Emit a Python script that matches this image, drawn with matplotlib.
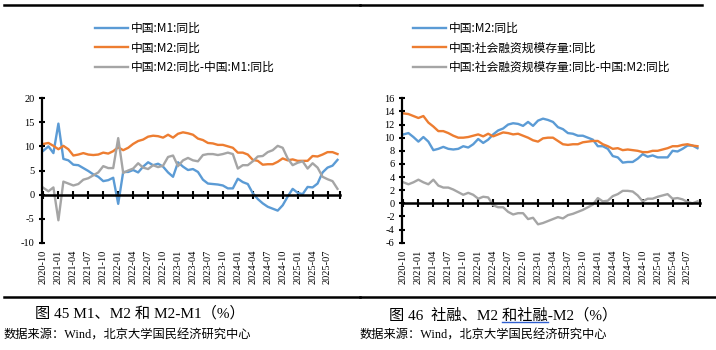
import matplotlib
matplotlib.use("Agg")
import matplotlib.pyplot as plt
import numpy as np
import pandas as pd

plt.rcParams["axes.unicode_minus"] = False

months = [p.strftime("%Y-%m") for p in pd.period_range("2020-10", "2025-09", freq="M")]

m1 = [9.1, 10.0, 8.6,
      14.7, 7.4, 7.1, 6.2, 6.1, 5.5, 4.9, 4.2, 3.7, 2.8, 3.0, 3.5,
      -1.9, 4.7, 4.7, 5.1, 4.6, 5.8, 6.7, 6.1, 6.4, 5.8, 4.6, 3.7,
      6.7, 5.8, 5.1, 5.3, 4.7, 3.1, 2.3, 2.2, 2.1, 1.9, 1.3, 1.3,
      3.3, 2.6, 2.2, 0.3, -0.9, -1.8, -2.5, -2.9, -3.3, -2.2, -0.4, 1.2,
      0.4, 0.1, 1.6, 1.5, 2.3, 4.6, 5.6, 6.0, 7.2]
m2 = [10.5, 10.7, 10.1,
      9.4, 10.1, 9.4, 8.1, 8.3, 8.6, 8.3, 8.2, 8.3, 8.7, 8.5, 9.0,
      9.8, 9.2, 9.7, 10.5, 11.1, 11.4, 12.0, 12.2, 12.1, 11.8, 12.4, 11.8,
      12.6, 12.9, 12.7, 12.4, 11.6, 11.3, 10.7, 10.6, 10.3, 10.3, 10.0, 9.7,
      8.7, 8.7, 8.3, 7.2, 7.0, 6.2, 6.3, 6.3, 6.8, 7.5, 7.1, 7.3,
      7.0, 7.0, 7.0, 8.0, 7.9, 8.3, 8.8, 8.8, 8.4]
m2_m1 = [1.4, 0.7, 1.5,
         -5.3, 2.7, 2.3, 1.9, 2.2, 3.1, 3.4, 4.0, 4.6, 5.9, 5.5, 5.5,
         11.7, 4.5, 5.0, 5.4, 6.5, 5.6, 5.3, 6.1, 5.7, 6.0, 7.8, 8.1,
         5.9, 7.1, 7.6, 7.1, 6.9, 8.2, 8.4, 8.4, 8.2, 8.4, 8.7, 8.4,
         5.4, 6.1, 6.1, 6.9, 7.9, 8.0, 8.8, 9.2, 10.1, 9.7, 7.5, 6.1,
         6.6, 6.9, 5.4, 6.5, 5.6, 3.7, 3.2, 2.8, 1.2]
tsf = [13.7, 13.6, 13.3,
       13.0, 13.3, 12.3, 11.7, 11.0, 11.0, 10.7, 10.3, 10.0, 10.0, 10.1, 10.3,
       10.5, 10.2, 10.6, 10.2, 10.5, 10.8, 10.7, 10.5, 10.6, 10.3, 10.0, 9.6,
       9.4, 9.9, 10.0, 10.0, 9.5, 9.0, 8.9, 9.0, 9.0, 9.3, 9.4, 9.5,
       9.5, 9.0, 8.7, 8.3, 8.4, 8.1, 8.2, 8.1, 8.0, 7.8, 7.8, 8.0,
       8.0, 8.2, 8.4, 8.7, 8.7, 8.9, 9.0, 8.8, 8.7]
tsf_m2 = [3.2, 2.9, 3.2,
          3.6, 3.2, 2.9, 3.6, 2.7, 2.4, 2.4, 2.1, 1.7, 1.3, 1.6, 1.3,
          0.7, 1.0, 0.9, -0.3, -0.6, -0.6, -1.3, -1.7, -1.5, -1.5, -2.4, -2.2,
          -3.2, -3.0, -2.7, -2.4, -2.1, -2.3, -1.8, -1.6, -1.3, -1.0, -0.6, -0.2,
          0.8, 0.3, 0.4, 1.1, 1.4, 1.9, 1.9, 1.8, 1.2, 0.3, 0.7, 0.7,
          1.0, 1.2, 1.4, 0.7, 0.8, 0.6, 0.2, 0.0, 0.3]

left_labels = ["中国:M1:同比", "中国:M2:同比", "中国:M2:同比-中国:M1:同比"]
right_labels = ["中国:M2:同比", "中国:社会融资规模存量:同比", "中国:社会融资规模存量:同比-中国:M2:同比"]

BLUE, ORANGE, GRAY = "#5B9BD5", "#ED7D31", "#A5A5A5"
cjk = ["Noto Sans CJK SC", "DejaVu Sans"]
serif = ["Liberation Serif", "Noto Sans CJK SC"]

W, H = 716, 350
fig = plt.figure(figsize=(W / 100, H / 100), dpi=100)


def px_axes(x0, y0, x1, y1):
    return fig.add_axes([x0 / W, 1 - y1 / H, (x1 - x0) / W, (y1 - y0) / H])


def draw_panel(ax, series, ylim, ystep, labels, legend_x):
    x = np.arange(len(months))
    handles = []
    for ys, c in zip(series, [BLUE, ORANGE, GRAY]):
        h, = ax.plot(x, ys, color=c, lw=1.7, solid_joinstyle="round")
        handles.append(h)
    ax.set_ylim(*ylim)
    ax.set_xlim(-0.35, 59.5)
    ax.set_yticks(np.arange(ylim[0], ylim[1] + 0.1, ystep))
    for s in ["top", "right"]:
        ax.spines[s].set_visible(False)
    ax.spines["left"].set_linewidth(1.6)
    ax.spines["bottom"].set_position(("data", 0))
    ax.spines["bottom"].set_linewidth(1.8)
    ax.set_xticks(list(range(0, 58, 3)) + [59.5])
    ax.tick_params(axis="x", direction="inout", length=6, width=1.5, labelbottom=False)
    ax.tick_params(axis="y", direction="inout", length=4, width=1.5, pad=3)
    for t in ax.get_yticklabels():
        t.set_fontfamily(serif)
        t.set_fontsize(7.5)
    sec = ax.secondary_xaxis("bottom")
    sec.set_xticks(range(0, 58, 3), [months[i] for i in range(0, 58, 3)])
    sec.spines["bottom"].set_visible(False)
    sec.tick_params(length=0, pad=5, labelrotation=90)
    for t in sec.get_xticklabels():
        t.set_fontfamily(serif)
        t.set_fontsize(7.5)
    fig.legend(handles, labels, loc="upper left", bbox_to_anchor=(legend_x / W, 1 - 22 / H),
               frameon=False, borderpad=0, borderaxespad=0, handlelength=2.8,
               handletextpad=0.25, labelspacing=0.55, prop={"family": cjk, "size": 8.5})


ax1 = px_axes(41.7, 98, 340, 243)
draw_panel(ax1, [m1, m2, m2_m1], (-10, 20), 5, left_labels, 95)
ax2 = px_axes(401.7, 98.3, 700, 242.7)
draw_panel(ax2, [m2, tsf, tsf_m2], (-6, 16), 2, right_labels, 413)

# rules, captions and sources
for x0, x1, y in [(4, 360, 5), (360, 702, 5), (4, 360, 296.5), (360, 715, 296.5)]:
    fig.add_artist(plt.Line2D([x0 / W, x1 / W], [1 - y / H] * 2, color="black", lw=1.8))

cap_font = dict(family=serif, fontsize=11)
fig.text(35 / W, 1 - 313.5 / H, "图 45 M1、M2 和 M2-M1（%）", ha="left", va="center", **cap_font)
cap2_pre, cap2_ul = "图 46  社融、M2 ", "和社融"
cap2 = fig.text(389 / W, 1 - 315 / H, cap2_pre + cap2_ul + "-M2（%）", ha="left", va="center", **cap_font)

# blue underline under "和社融", as in the source document
renderer = fig.canvas.get_renderer()
probe = fig.text(389 / W, 1 - 315 / H, cap2_pre, ha="left", va="center", **cap_font)
x_a = probe.get_window_extent(renderer).x1
probe.set_text(cap2_pre + cap2_ul)
x_b = probe.get_window_extent(renderer).x1
probe.remove()
fig.add_artist(plt.Line2D([x_a / W, x_b / W], [1 - 322 / H] * 2, color="#2F5FD0", lw=1.0))

src = "数据来源：Wind，北京大学国民经济研究中心"
fig.text(4 / W, 1 - 336 / H, src, ha="left", va="center", family=serif, fontsize=8.8)
fig.text(360 / W, 1 - 336 / H, src, ha="left", va="center", family=serif, fontsize=8.8)

fig.savefig("out.png", dpi=100)
